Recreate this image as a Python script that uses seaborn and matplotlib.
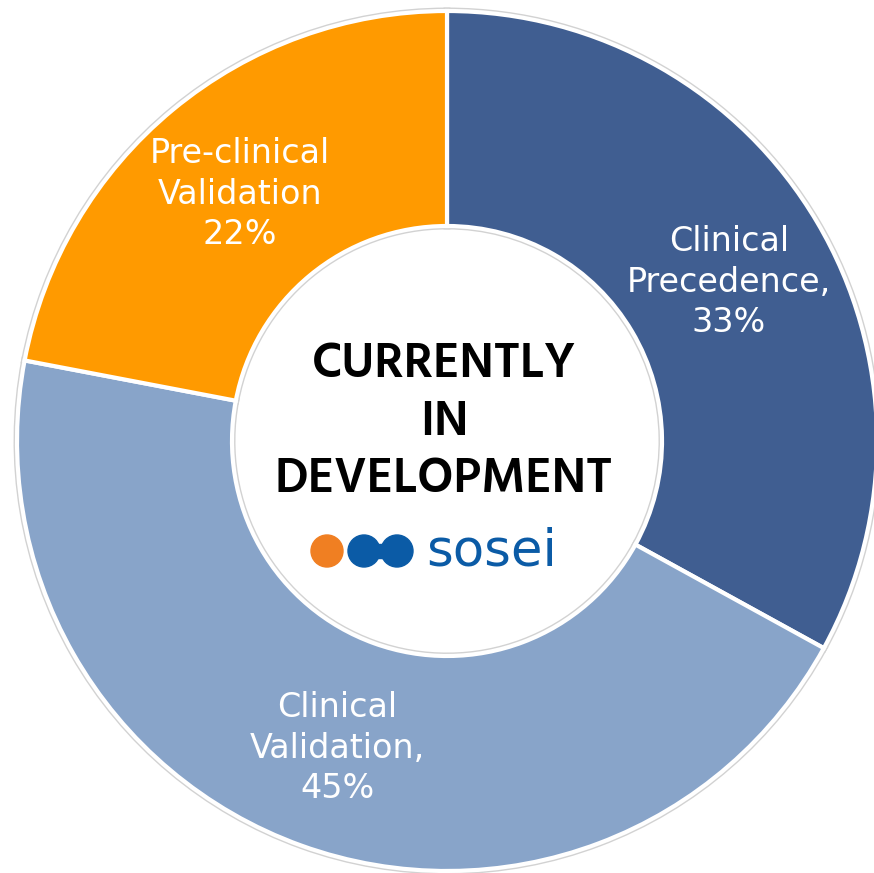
import matplotlib
matplotlib.use("Agg")
import matplotlib.pyplot as plt
import seaborn as sns
from matplotlib.patches import Circle, Rectangle
from matplotlib import font_manager

sns.set_theme(style="white")
plt.rcParams['font.family'] = ['DejaVu Sans']

categories = ["Clinical\nPrecedence,\n33%", "Clinical\nValidation,\n45%", "Pre-clinical\nValidation\n22%"]
values = [33, 45, 22]
colors = ["#405E91", "#88A4C9", "#FF9A00"]
label_pos = [(729, 282), (337, 748), (240, 194)]
center_lines = ["CURRENTLY", "IN", "DEVELOPMENT"]
center_baselines = [377, 435, 492]

W, H = 874, 873
cx, cy, R = 447, 441, 430

names = {f.name for f in font_manager.fontManager.ttflist}
center_font = "Hind" if "Hind" in names else "Lato"

fig = plt.figure(figsize=(W / 100, H / 100), dpi=100)
ax = fig.add_axes([0, 0, 1, 1])

ax.pie(values, colors=colors, startangle=90, counterclock=False, radius=1.0,
       wedgeprops=dict(width=0.5, edgecolor="#d2d2d2", linewidth=5))
ax.pie(values, colors=colors, startangle=90, counterclock=False, radius=1.0,
       wedgeprops=dict(width=0.5, edgecolor="white", linewidth=3))

ax.set_xlim(-cx / R, (W - cx) / R)
ax.set_ylim(-(H - cy) / R, cy / R)
ax.set_aspect("equal")
ax.axis("off")

def px(x, y):
    return (x - cx) / R, (cy - y) / R

for lab, (x, y) in zip(categories, label_pos):
    ax.text(*px(x, y), lab, ha="center", va="center", color="white",
            fontsize=24, linespacing=1.28)

for line, y in zip(center_lines, center_baselines):
    ax.text(*px(444, y), line, ha="center", va="baseline", color="black",
            fontsize=36, family=center_font, fontweight="semibold")

r = 16 / R
ax.add_patch(Circle(px(327, 551), r, color="#F07F22", zorder=5))
ax.add_patch(Circle(px(364, 551), r, color="#0B5BA6", zorder=5))
ax.add_patch(Circle(px(397, 551), r, color="#0B5BA6", zorder=5))
x0, y0 = px(364, 558)
ax.add_patch(Rectangle((x0, y0), 33 / R, 14 / R, color="#0B5BA6", zorder=5))
ax.text(*px(492, 565), "sosei", ha="center", va="baseline", color="#0B5BA6",
        fontsize=37, family="DejaVu Sans", zorder=6)

fig.savefig("out.png", dpi=100)
